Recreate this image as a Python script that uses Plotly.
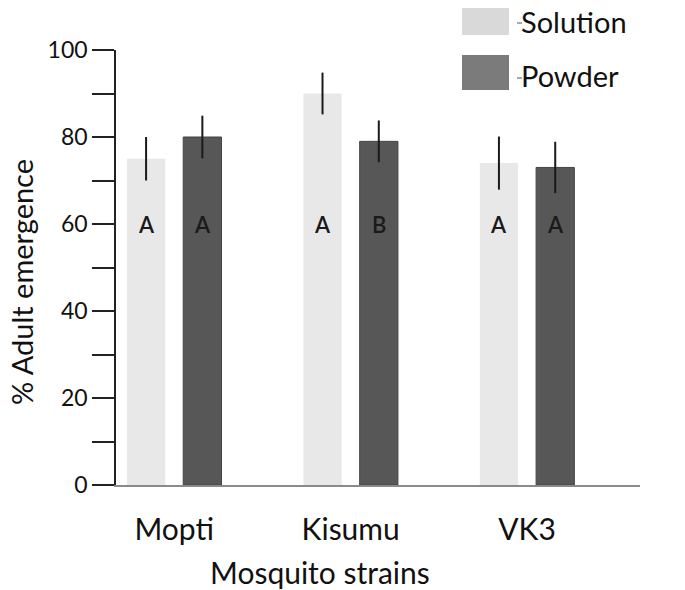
import plotly.graph_objects as go

strains = ["Mopti", "Kisumu", "VK3"]
solution = [75, 90, 74]
solution_err = [5.0, 4.8, 6.1]
powder = [80, 79, 73]
powder_err = [4.9, 4.8, 5.9]
solution_letters = ["A", "A", "A"]
powder_letters = ["A", "B", "A"]
yticks = [0, 20, 40, 60, 80, 100]

FONT = "Lato"
BARGAP = 0.362
BARGROUPGAP = 0.32

fig = go.Figure()
fig.add_trace(go.Bar(
    name="Solution", x=strains, y=solution,
    marker=dict(color="#e8e8e8", line=dict(width=0)),
    error_y=dict(type="data", array=solution_err, visible=True,
                 color="#1a1a1a", thickness=2, width=0),
    showlegend=False,
))
fig.add_trace(go.Bar(
    name="Powder", x=strains, y=powder,
    marker=dict(color="#575757", line=dict(width=1, color="#454545")),
    error_y=dict(type="data", array=powder_err, visible=True,
                 color="#1a1a1a", thickness=2, width=0),
    showlegend=False,
))

# significance letters centred on each bar at y = 60
slot = (1 - BARGAP) / 2
for i, s in enumerate(strains):
    for letter, off in ((solution_letters[i], -slot / 2), (powder_letters[i], slot / 2)):
        fig.add_annotation(x=i + off, y=60, xref="x", yref="y", text=letter,
                           showarrow=False,
                           font=dict(family=FONT, size=22, color="#1a1a1a", weight=600))

# manual legend (positions in reference pixels, relative to plot area)
legend_items = [("Solution", "#d9d9d9", 0), ("Powder", "#7b7b7b", 55)]
H = 435.0
W = 524.0
for label, col, top in legend_items:
    y0 = (485 - (top + 35)) / H
    y1 = (485 - top) / H
    fig.add_shape(type="rect", xref="paper", yref="paper",
                  x0=(462 - 116) / W, x1=(509 - 116) / W, y0=y0, y1=y1,
                  fillcolor=col, line=dict(width=0), layer="above")
    fig.add_shape(type="line", xref="paper", yref="paper",
                  x0=(517 - 116) / W, x1=(522 - 116) / W,
                  y0=(485 - (top + 23)) / H, y1=(485 - (top + 23)) / H,
                  line=dict(color="#555", width=1))
    fig.add_annotation(xref="paper", yref="paper", x=(520 - 116) / W,
                       y=(485 - (top + 21)) / H, text=label, showarrow=False,
                       xanchor="left", yanchor="middle", borderpad=0,
                       font=dict(family=FONT, size=29, color="#111"))

# axis titles
fig.add_annotation(xref="paper", yref="paper", x=(320 - 116) / W, y=(485 - 572) / H,
                   text="Mosquito strains", showarrow=False, xanchor="center",
                   yanchor="middle", font=dict(family=FONT, size=30, color="#111"))
fig.add_annotation(xref="paper", yref="paper", x=(21 - 116) / W, y=(485 - 282) / H,
                   text="% Adult emergence", showarrow=False, textangle=-90,
                   xanchor="center", yanchor="middle", borderpad=0,
                   font=dict(family=FONT, size=29, color="#111"))

fig.update_layout(
    width=685, height=590,
    margin=dict(l=108, r=53, t=42, b=113),
    paper_bgcolor="white", plot_bgcolor="white",
    barmode="group", bargap=BARGAP, bargroupgap=BARGROUPGAP,
    font=dict(family=FONT, color="#111"),
)
fig.update_xaxes(
    range=[-0.33, 2.64], showgrid=False, zeroline=False,
    showline=True, linecolor="#8a8a8a", linewidth=2,
    ticks="outside", ticklen=17, tickcolor="rgba(0,0,0,0)",
    tickfont=dict(family=FONT, size=30, color="#111"),
)
fig.update_yaxes(
    range=[0, 100], tickvals=yticks, showgrid=False, zeroline=False,
    showline=True, linecolor="#222", linewidth=1.5,
    ticks="outside", ticklen=22, tickwidth=1.5, tickcolor="#222",
    minor=dict(dtick=10, tick0=0, ticks="outside", ticklen=22, tickwidth=1.5, tickcolor="#222"),
    tickfont=dict(family=FONT, size=23, color="#111"),
)

fig.write_html("out.html")
